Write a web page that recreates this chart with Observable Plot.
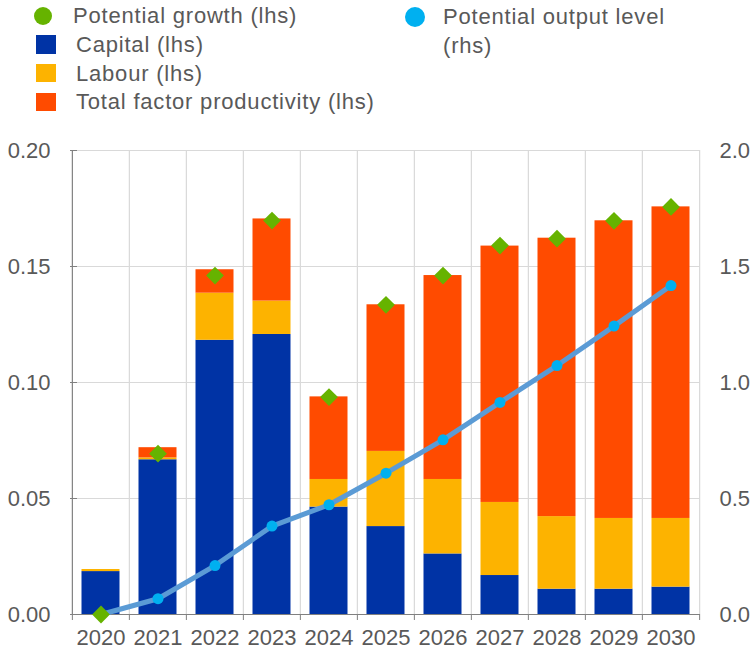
<!DOCTYPE html>
<html><head><meta charset="utf-8">
<script src="https://cdn.jsdelivr.net/npm/d3@7"></script>
<script src="https://cdn.jsdelivr.net/npm/@observablehq/plot@0.6"></script>
<style>
body{margin:0;background:#fff;font-family:"Liberation Sans",Arial,sans-serif;}
#wrap{position:relative;width:752px;height:649px;overflow:hidden;}
.lg{position:absolute;font-size:22px;letter-spacing:0.8px;color:#595959;white-space:nowrap;line-height:28px;}
.sw{position:absolute;}
#chart{position:absolute;left:0;top:130px;}
</style></head><body>
<div id="wrap">
  <div class="sw" style="left:34px;top:7px;width:18px;height:18px;border-radius:50%;background:#66b300"></div>
  <div class="lg" style="left:73px;top:2px">Potential growth (lhs)</div>
  <div class="sw" style="left:36px;top:35px;width:20px;height:19px;background:#0033a5"></div>
  <div class="lg" style="left:76px;top:31px">Capital (lhs)</div>
  <div class="sw" style="left:36px;top:64px;width:20px;height:18px;background:#fdb300"></div>
  <div class="lg" style="left:76px;top:60px">Labour (lhs)</div>
  <div class="sw" style="left:36px;top:93px;width:20px;height:18px;background:#ff4b00"></div>
  <div class="lg" style="left:76px;top:88px">Total factor productivity (lhs)</div>
  <div class="sw" style="left:405px;top:7px;width:20px;height:20px;border-radius:50%;background:#00b0f0"></div>
  <div class="lg" style="left:443px;top:2px;line-height:29px">Potential output level<br>(rhs)</div>
  <div id="chart"></div>
</div>
<script>
const years = ["2020","2021","2022","2023","2024","2025","2026","2027","2028","2029","2030"];
const capital = [0.0185,0.0667,0.1182,0.1207,0.0463,0.0379,0.0261,0.0168,0.0109,0.0109,0.0118];
const labour  = [0.0009,0.0008,0.0203,0.0144,0.0119,0.0324,0.0321,0.0315,0.0313,0.0305,0.0296];
const tfp     = [-0.0004,0.0044,0.0101,0.0354,0.0356,0.0632,0.0879,0.1105,0.1200,0.1283,0.1343];
const potentialGrowth = [0.0,0.0693,0.1461,0.1698,0.0937,0.1335,0.1461,0.1590,0.1620,0.1697,0.1757];
const outputLevel = [0.0,0.068,0.211,0.381,0.473,0.609,0.753,0.914,1.073,1.243,1.418];
const components = ["Capital","Labour","Total factor productivity"];
const colors = ["#0033a5","#fdb300","#ff4b00"];
const yTicks = [0,0.05,0.10,0.15,0.20];

const rows = [];
years.forEach((y,i)=>{
  rows.push({year:y, component:components[0], value:capital[i]});
  rows.push({year:y, component:components[1], value:labour[i]});
  rows.push({year:y, component:components[2], value:tfp[i]});
});
const pts = years.map((y,i)=>({year:y, growth:potentialGrowth[i], level:outputLevel[i]/10}));

const W = 752, ML = 70, MR = 52;
const bw = (W-ML-MR)/years.length;
const grey = "#808080";

const chart = Plot.plot({
  width: W, height: 519,
  marginTop: 20, marginRight: MR, marginBottom: 35, marginLeft: ML,
  style: {fontFamily:"'Liberation Sans', Arial, sans-serif", fontSize:"22px", color:"#595959", background:"transparent", overflow:"visible"},
  x: {type:"band", domain: years, padding: 0, axis: null, label: null},
  y: {domain:[0,0.2], axis: null, label: null},
  color: {domain: components, range: colors},
  marks: [
    Plot.ruleY(yTicks.slice(1), {stroke:"#d9d9d9", strokeWidth:1.2}),
    Plot.ruleX(years.slice(1), {dx:-bw/2, stroke:"#d9d9d9", strokeWidth:1.2}),
    Plot.ruleX([years[years.length-1]], {dx:bw/2, stroke:"#d9d9d9", strokeWidth:1.2}),
    Plot.barY(rows, {x:"year", y:"value", fill:"component", order: components, insetLeft:9.5, insetRight:9.5}),
    Plot.ruleY([0], {stroke:grey, strokeWidth:1.2}),
    Plot.ruleX([years[0]], {dx:-bw/2, stroke:grey, strokeWidth:1.2}),
    Plot.axisX({ticks: years, tickSize:6, tickFormat:()=>"", dx:-bw/2, stroke:grey, label:null}),
    Plot.axisX({ticks: [years[years.length-1]], tickSize:6, tickFormat:()=>"", dx:bw/2, stroke:grey, label:null}),
    Plot.axisX({tickSize:0, tickPadding:15, fill:"#595959", label:null}),
    Plot.axisY({ticks: yTicks, anchor:"left", tickSize:-7, tickFormat:()=>"", stroke:grey, label:null}),
    Plot.axisY({ticks: yTicks, anchor:"left", tickSize:0, tickPadding:20, tickFormat: d3.format(".2f"), fill:"#595959", label:null}),
    Plot.axisY({ticks: yTicks, anchor:"right", tickSize:0, tickPadding:19, tickFormat: d=>(d*10).toFixed(1), fill:"#595959", label:null}),
    Plot.line(pts, {x:"year", y:"level", stroke:"#5b9bd5", strokeWidth:5}),
    Plot.dot(pts, {x:"year", y:"level", r:5.5, fill:"#00b0f0"}),
    Plot.dot(pts, {x:"year", y:"growth", symbol:"diamond2", r:8, fill:"#66b300"})
  ]
});
document.getElementById("chart").appendChild(chart);
</script>
</body></html>
